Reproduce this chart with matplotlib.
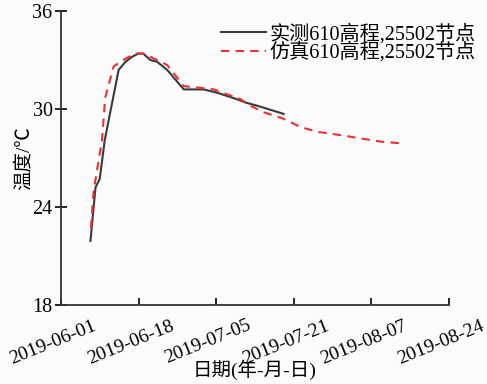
import numpy as np
import matplotlib
matplotlib.use("Agg")
import matplotlib.pyplot as plt
import matplotlib.dates as mdates
import matplotlib.transforms as mtransforms
import datetime

plt.rcParams['font.family'] = ['Liberation Serif', 'Noto Sans CJK SC']

start = datetime.datetime(2019, 6, 1)
end = datetime.datetime(2019, 8, 24)

# measured (days since 2019-06-01, temperature)
meas_days = [6.4, 7.5, 8.4, 9.5, 12.5, 14.0, 15.4, 16.8, 17.8, 19.4, 20.8, 23.0,
             26.6, 28.0, 30.9, 33.8, 38.1, 39.9, 42.5, 48.2]
meas_temp = [21.9, 25.2, 25.7, 28.1, 32.4, 32.9, 33.2, 33.4, 33.4, 33.0, 32.9, 32.4,
             31.2, 31.2, 31.2, 31.0, 30.6, 30.4, 30.2, 29.7]

# simulated
sim_days = [6.5, 7.1, 8.9, 9.6, 11.4, 12.9, 14.7, 16.5, 17.9, 20.8, 23.0, 26.6,
            30.2, 33.1, 38.9, 41.0, 43.9, 48.2, 51.8, 55.5, 60.5, 64.8, 69.2, 73.5]
sim_temp = [22.7, 25.0, 28.1, 30.7, 32.6, 32.9, 33.2, 33.4, 33.4, 33.0, 32.7, 31.4,
            31.3, 31.2, 30.6, 30.2, 29.8, 29.4, 28.9, 28.6, 28.4, 28.2, 28.0, 27.9]

tick_labels = ['2019-06-01', '2019-06-18', '2019-07-05', '2019-07-21', '2019-08-07', '2019-08-24']
y_ticks = [18, 24, 30, 36]

meas_x = [start + datetime.timedelta(days=d) for d in meas_days]
sim_x = [start + datetime.timedelta(days=d) for d in sim_days]

fig = plt.figure(figsize=(4.87, 3.84), dpi=100, facecolor='#fbfbfb')
ax = fig.add_axes([0.125, 0.2065, 0.797, 0.7645])
ax.set_facecolor('#fbfbfb')

ax.plot(meas_x, meas_temp, color='#3a3a3a', lw=1.5, label='实测610高程,25502节点')
ax.plot(sim_x, sim_temp, color='#f03030', lw=1.5, ls=(0, (4, 3)), label='仿真610高程,25502节点')

x0 = mdates.date2num(start)
x1 = mdates.date2num(end)
ax.set_xlim(x0, x1)
ax.set_xticks(np.linspace(x0, x1, 6))
ax.set_xticklabels(tick_labels, rotation=22, ha='center', fontsize=14)
ax.set_ylim(18, 36)
ax.set_yticks(y_ticks)
ax.set_yticklabels([str(v) for v in y_ticks], fontsize=14.5)

ax.spines['top'].set_visible(False)
ax.spines['right'].set_visible(False)
for s in ['left', 'bottom']:
    ax.spines[s].set_linewidth(1.3)
    ax.spines[s].set_color('#333333')
ax.tick_params(axis='x', direction='in', length=5, width=1.2, pad=9)
ax.tick_params(axis='y', direction='inout', length=8, width=1.2, pad=2)

# shift tick labels a bit to the left, like the original
shift = mtransforms.ScaledTranslation(-8 / 100, 0, fig.dpi_scale_trans)
for tk in ax.xaxis.get_major_ticks():
    tk.label1.set_transform(tk.label1.get_transform() + shift)

ax.set_xlabel('日期(年-月-日)', fontsize=14, labelpad=-6)
ax.set_ylabel('温度/℃', fontsize=14, labelpad=0)

leg = ax.legend(loc='upper right', bbox_to_anchor=(1.09, 0.985), frameon=False, fontsize=14.5,
                handlelength=2.2, handletextpad=0.2, labelspacing=-0.1, borderaxespad=0)

fig.savefig('out.png', dpi=100, facecolor=fig.get_facecolor())
